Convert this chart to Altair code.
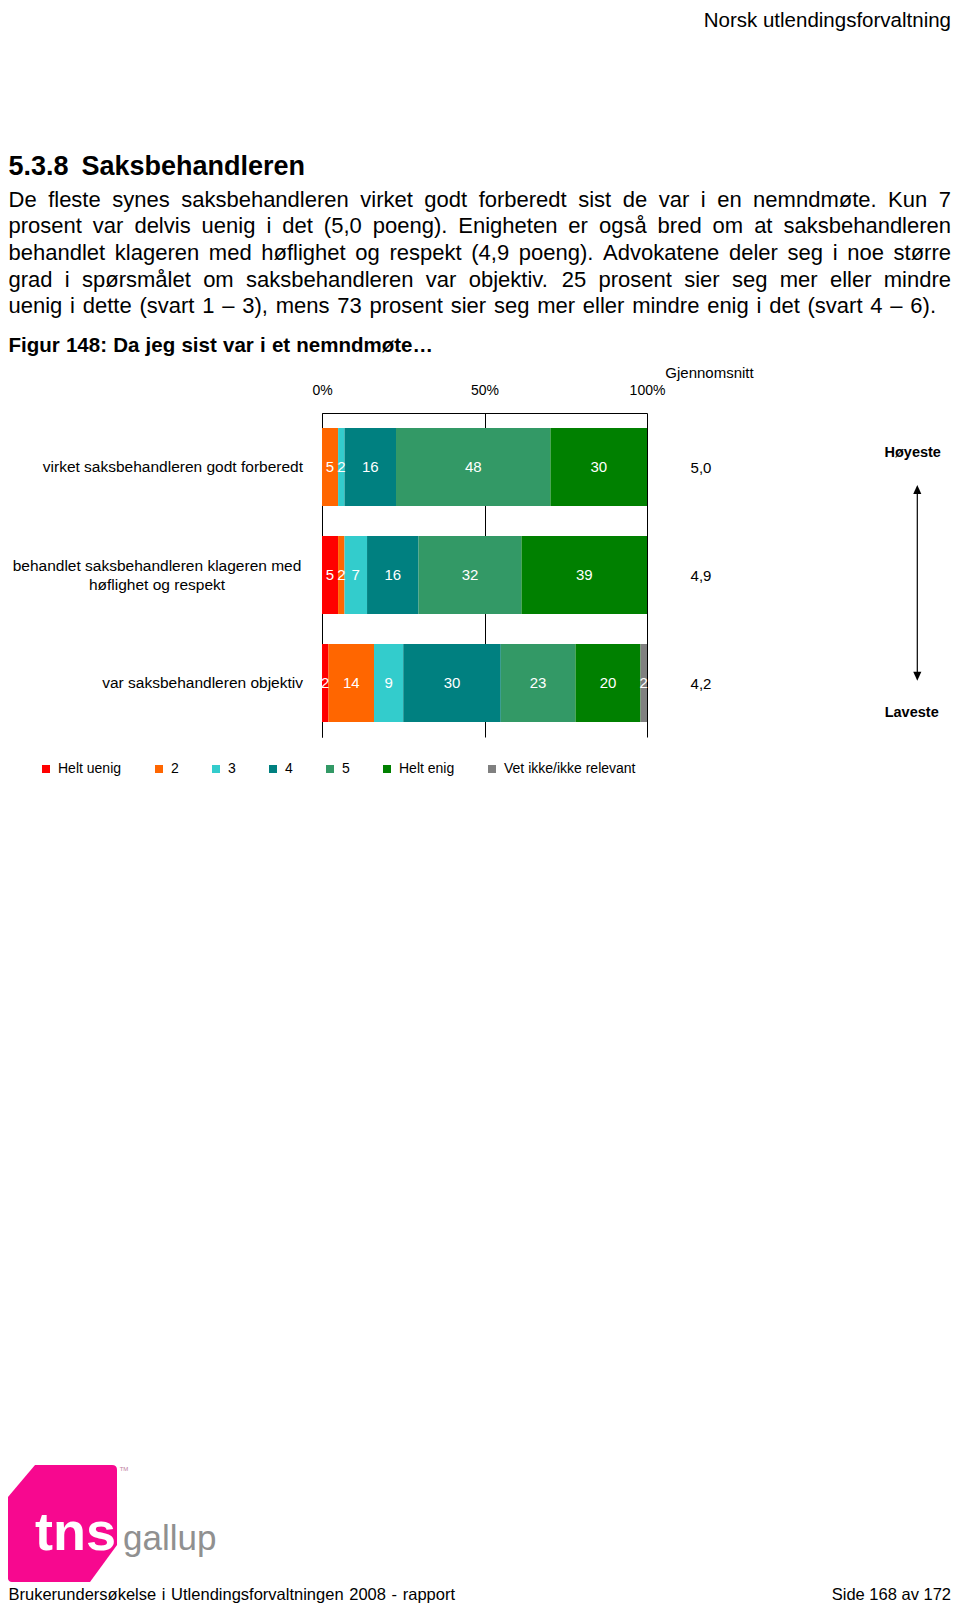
import altair as alt
import pandas as pd

# ---------------- data ----------------
items = [
    "virket saksbehandleren godt forberedt",
    "behandlet saksbehandleren klageren med høflighet og respekt",
    "var saksbehandleren objektiv",
]
item_lines = [
    ["virket saksbehandleren godt forberedt"],
    ["behandlet saksbehandleren klageren med", "høflighet og respekt"],
    ["var saksbehandleren objektiv"],
]
answers = ["Helt uenig", "2", "3", "4", "5", "Helt enig", "Vet ikke/ikke relevant"]
colors = ["#ff0000", "#ff6600", "#33cccc", "#008080", "#339966", "#008000", "#808080"]
v_forberedt = [0, 5, 2, 16, 48, 30, 0]
v_hoflighet = [5, 2, 7, 16, 32, 39, 0]
v_objektiv = [2, 14, 9, 30, 23, 20, 2]
averages = ["5,0", "4,9", "4,2"]
x_ticks = [0, 0.5, 1]

header_text = "Norsk utlendingsforvaltning"
section_title = "5.3.8 Saksbehandleren"
paragraph_lines = [
    "De fleste synes saksbehandleren virket godt forberedt sist de var i en nemndmøte. Kun 7",
    "prosent var delvis uenig i det (5,0 poeng). Enigheten er også bred om at saksbehandleren",
    "behandlet klageren med høflighet og respekt (4,9 poeng). Advokatene deler seg i noe større",
    "grad i spørsmålet om saksbehandleren var objektiv. 25 prosent sier seg mer eller mindre",
    "uenig i dette (svart 1 – 3), mens 73 prosent sier seg mer eller mindre enig i det (svart 4 – 6).",
]
figure_title = "Figur 148: Da jeg sist var i et nemndmøte…"
avg_title = "Gjennomsnitt"
high_label = "Høyeste"
low_label = "Laveste"
footer_left = "Brukerundersøkelse i Utlendingsforvaltningen 2008 - rapport"
footer_right = "Side 168 av 172"
logo_main = "tns"
logo_sub = "gallup"
logo_tm = "TM"

# ---------------- layout helpers ----------------
F = "Liberation Sans, Arial, Helvetica, sans-serif"
OX, OY = 322, 413          # page position of the plot origin
W_PLOT, H_PLOT = 325, 324
TOTAL_W, TOTAL_H = 944, 1595


def _m(spec):
    d = {}
    for chars, w in spec:
        for c in chars:
            d[c] = w
    return d


AR = _m([(" ,./:;!", 278), ("()-r", 333), ("0123456789–abdeghnopquå", 556),
         ("ijl", 222), ("ft", 278), ("ckvxyzsJ", 500), ("mM", 833), ("w", 722),
         ("ø", 611), ("æ", 889), ("…", 1000), ("ABEKPSVXY", 667), ("CDHNRU", 722),
         ("FTZ", 611), ("GOQ", 778), ("L", 556), ("I", 278), ("W", 944)])
AB = _m([(" ,./", 278), (":;!()-", 333), ("0123456789–acekvxyså", 556),
         ("bdghnopqu", 611), ("ijlI", 278), ("ft", 333), ("m", 889), ("r", 389),
         ("w", 778), ("z", 500), ("ø", 611), ("æ", 889), ("…", 1000),
         ("ABCDHKNRU", 722), ("EPSV", 667), ("FLT", 611), ("GO", 778), ("M", 833), ("W", 944)])


def place(text, x0, x1, y, size, bold, table):
    words = text.split(" ")
    met = AB if bold else AR
    ws = [sum(met.get(c, 556) for c in w) * size / 1000.0 for w in words]
    gap = 0 if len(words) < 2 else (x1 - x0 - sum(ws)) / (len(words) - 1)
    x = x0
    for w, wd in zip(words, ws):
        table.append({"px": x - OX, "py": y - OY, "t": w, "fs": size})
        x += wd + gap


LEFT, RIGHT = 8.5, 951
reg_words, bold_words = [], []
place(section_title, LEFT, 305, 174.5, 27, True, bold_words)
for i, line in enumerate(paragraph_lines):
    x1 = RIGHT if i < len(paragraph_lines) - 1 else 936
    place(line, LEFT, x1, 206.5 + 26.7 * i, 22, False, reg_words)
place(figure_title, LEFT, 433, 352, 20.5, True, bold_words)
place(footer_left, LEFT, 455, 1600, 16.5, False, reg_words)

right_texts = [
    {"px": RIGHT - OX, "py": 27 - OY, "t": header_text, "fs": 20.5},
    {"px": RIGHT - OX, "py": 1600 - OY, "t": footer_right, "fs": 16.5},
]

one = alt.Data(values=[{"a": 1}])


def words_chart(table, weight="normal", align="left"):
    return alt.Chart(alt.Data(values=table)).mark_text(
        align=align, baseline="alphabetic", font=F, fontWeight=weight, color="black"
    ).encode(
        x=alt.X("px:Q", scale=None, axis=None),
        y=alt.Y("py:Q", scale=None, axis=None),
        text="t:N",
        size=alt.Size("fs:Q", scale=None, legend=None),
    )


# ---------------- chart data ----------------
rows = []
for it, vals in zip(items, [v_forberedt, v_hoflighet, v_objektiv]):
    for k, (a, v) in enumerate(zip(answers, vals)):
        rows.append({"item": it, "answer": a, "value": v, "k": k})
df = pd.DataFrame(rows)

yenc = alt.Y(
    "item:N", sort=items,
    scale=alt.Scale(domain=items, paddingInner=0.278, paddingOuter=0.139),
    axis=alt.Axis(labels=False, ticks=False, title=None, domainColor="black", domainWidth=1,
                  domainOpacity=1, grid=False),
)

bars = alt.Chart(df).mark_bar(strokeWidth=0).encode(
    x=alt.X(
        "value:Q", stack="normalize",
        scale=alt.Scale(domain=[0, 1], nice=False),
        axis=alt.Axis(orient="top", values=x_ticks, format=".0%", grid=True, gridColor="black",
                      gridOpacity=1, gridWidth=1, domainColor="black", domainWidth=1,
                      domainOpacity=1, ticks=False, tickSize=0, labelPadding=23,
                      labelBaseline="middle", labelFlush=False, labelFont=F, labelFontSize=14,
                      labelColor="black", title=None),
    ),
    y=yenc,
    color=alt.Color(
        "answer:N", scale=alt.Scale(domain=answers, range=colors),
        legend=alt.Legend(orient="none", legendX=-283, legendY=349, direction="horizontal",
                          columns=7, columnPadding=30, symbolType="square", symbolSize=64,
                          symbolStrokeWidth=0, symbolOpacity=1, labelFontSize=14, labelFont=F,
                          labelColor="black", labelOffset=5, title=None, padding=0),
    ),
    order=alt.Order("k:Q"),
)

bar_labels = alt.Chart(df).transform_filter("datum.value > 0").transform_stack(
    stack="value", groupby=["item"], as_=["s0", "s1"], offset="normalize",
    sort=[alt.SortField("k", order="ascending")],
).transform_calculate(mid="(datum.s0 + datum.s1) / 2").mark_text(
    color="white", font=F, fontSize=15, baseline="middle"
).encode(
    x=alt.X("mid:Q", axis=None),
    y=alt.Y("item:N", sort=items, axis=None),
    text="value:Q",
)

cat_single = alt.Chart(alt.Data(values=[
    {"item": it, "lab": "\n".join(ln)} for it, ln in zip(items, item_lines) if len(ln) == 1
])).mark_text(align="right", baseline="middle", font=F, fontSize=15.5, color="black").encode(
    x=alt.value(303 - OX), y=alt.Y("item:N", sort=items, axis=None), text="lab:N")

cat_multi = alt.Chart(alt.Data(values=[
    {"item": it, "lab": "\n".join(ln)} for it, ln in zip(items, item_lines) if len(ln) > 1
])).mark_text(align="center", baseline="middle", font=F, fontSize=15.5, color="black",
              lineBreak="\n", lineHeight=19, dy=-9.5).encode(
    x=alt.value(157 - OX), y=alt.Y("item:N", sort=items, axis=None), text="lab:N")

avg = alt.Chart(alt.Data(values=[{"item": it, "avg": a} for it, a in zip(items, averages)])).mark_text(
    align="left", baseline="middle", font=F, fontSize=15, dy=1, color="black"
).encode(x=alt.value(690.6 - OX), y=alt.Y("item:N", sort=items, axis=None), text="avg:N")


def label(txt, x, y, size, weight="normal", color="black", align="center", baseline="middle"):
    return alt.Chart(one).mark_text(align=align, baseline=baseline, font=F, fontSize=size,
                                    fontWeight=weight, color=color).encode(
        x=alt.value(x - OX), y=alt.value(y - OY), text=alt.value(txt))


avg_head = label(avg_title, 709.5, 372.7, 15)
high = label(high_label, 912.7, 453.3, 14.5, weight="bold")
low = label(low_label, 911.7, 712.7, 14.5, weight="bold")

arrow_line = alt.Chart(one).mark_rule(color="black", strokeWidth=1.2).encode(
    x=alt.value(917.3 - OX), y=alt.value(489 - OY), y2=alt.value(677 - OY))
arrow_up = alt.Chart(one).mark_point(shape="M 0 -1 L 0.9 1 L -0.9 1 Z", filled=True, size=81,
                                     color="black", opacity=1, strokeWidth=0).encode(
    x=alt.value(917.3 - OX), y=alt.value(489.5 - OY))
arrow_down = alt.Chart(one).mark_point(shape="M 0 1 L 0.9 -1 L -0.9 -1 Z", filled=True, size=81,
                                       color="black", opacity=1, strokeWidth=0).encode(
    x=alt.value(917.3 - OX), y=alt.value(676.2 - OY))

logo_path = ("M -0.932 -0.453 L -0.470 -1 L 0.846 -1 Q 0.932 -1 0.932 -0.915 L 0.932 0.368 "
             "L 0.470 1 L -0.863 1 Q -0.932 1 -0.932 0.932 Z")
logo_shape = alt.Chart(one).mark_point(shape=logo_path, filled=True, size=13689, color="#f7088f",
                                       opacity=1, strokeWidth=0).encode(
    x=alt.value(62.5 - OX), y=alt.value(1523.5 - OY))
logo_tns = label(logo_main, 35, 1550, 54, weight="bold", color="white", align="left", baseline="alphabetic")
logo_gallup = label(logo_sub, 123, 1550, 35, color="#909090", align="left", baseline="alphabetic")
logo_tmk = label(logo_tm, 124, 1469, 6, color="#c080a0")

chart = alt.layer(
    bars, bar_labels, cat_single, cat_multi, avg,
    words_chart(reg_words), words_chart(bold_words, weight="bold"),
    words_chart(right_texts, align="right"),
    avg_head, high, low, arrow_line, arrow_up, arrow_down,
    logo_shape, logo_tns, logo_gallup, logo_tmk,
).resolve_axis(x="independent", y="independent").properties(
    width=W_PLOT, height=H_PLOT,
    padding={"left": OX - 8, "top": OY - 8,
             "right": TOTAL_W - (OX - 8) - W_PLOT,
             "bottom": TOTAL_H - (OY - 8) - H_PLOT},
    autosize=alt.AutoSizeParams(type="none"),
    background="white",
).configure(font=F).configure_view(stroke=None)

chart.save("out.html", embed_options={"renderer": "svg", "actions": False})
